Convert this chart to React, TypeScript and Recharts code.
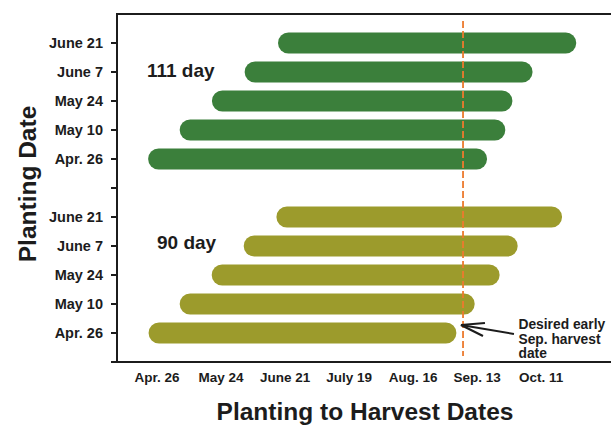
import React from "react";
import { BarChart, Bar, XAxis, YAxis, Cell, ReferenceLine, ReferenceDot } from "recharts";

// Planting-date categories (top to bottom); "" is the gap row
const categoryIds = ["a0", "a1", "a2", "a3", "a4", "gap", "b0", "b1", "b2", "b3", "b4"];
const plantingLabels = ["June 21", "June 7", "May 24", "May 10", "Apr. 26", "", "June 21", "June 7", "May 24", "May 10", "Apr. 26"];

// Days after Apr. 26 (visible bar extents)
const bar111Start = [52.9, 38.3, 24.0, 9.9, -3.9];
const bar111End = [183.3, 164.2, 155.4, 152.3, 144.3];
const bar90Start = [52.2, 37.9, 23.9, 9.9, -3.7];
const bar90End = [177.1, 157.7, 149.8, 138.9, 130.9];

const xTickDays = [0, 28, 56, 84, 112, 140, 168];
const xTickLabels = ["Apr. 26", "May 24", "June 21", "July 19", "Aug. 16", "Sep. 13", "Oct. 11"];
const xDomain = [-17.5, 198.5];
const harvestTargetDay = 133.8;
const arrowTipDay = 132.9;

const COLOR_111 = "#3b7f3b";
const COLOR_90 = "#9c9b2c";
const FONT = "'Liberation Sans', Arial, Helvetica, sans-serif";
const INK = "#1c1c1c";

const rows = categoryIds.map((id, i) => {
  let range: number[] | undefined = undefined;
  let group = "";
  if (i < 5) {
    range = [bar111Start[i], bar111End[i]];
    group = "111";
  } else if (i > 5) {
    range = [bar90Start[i - 6], bar90End[i - 6]];
    group = "90";
  }
  return { id, label: plantingLabels[i], range, group };
});

const labelFor = (id: string) => {
  const i = categoryIds.indexOf(id);
  return i >= 0 ? plantingLabels[i] : "";
};
const xLabelFor = (v: number) => {
  const i = xTickDays.indexOf(v);
  return i >= 0 ? xTickLabels[i] : "";
};

const ShortDashed = (props: any) => {
  const { x1, y1, x2, y2 } = props;
  const top = Math.min(y1, y2);
  const bottom = Math.max(y1, y2);
  return (
    <line x1={x1} x2={x2} y1={top + 7} y2={bottom - 6} stroke="#ec7a2e" strokeWidth={1.8} strokeDasharray="7 3" />
  );
};

// frame: top border across the plot and slight leftward extension of the base line
const Frame = (props: any) => {
  const { x1, y1, y2 } = props;
  const top = Math.min(y1, y2);
  const bottom = Math.max(y1, y2);
  return (
    <g>
      <line x1={x1 - 1} x2={611} y1={top} y2={top} stroke={INK} strokeWidth={2} />
      <line x1={x1 - 6} x2={x1} y1={bottom} y2={bottom} stroke={INK} strokeWidth={2} />
    </g>
  );
};

export default function App() {
  return (
    <div style={{ position: "absolute", left: 0, top: 0, width: 611, height: 426, background: "#fff" }}>
      <BarChart
        width={611}
        height={426}
        data={rows}
        layout="vertical"
        margin={{ top: 14, right: 0, bottom: 34, left: 0 }}
        barSize={21}
      >
        <XAxis
          type="number"
          dataKey="range"
          domain={xDomain}
          ticks={xTickDays}
          tickFormatter={xLabelFor}
          tickLine={false}
          tickSize={6}
          tickMargin={4}
          height={30}
          axisLine={{ stroke: INK, strokeWidth: 2 }}
          tick={{ fill: INK, fontSize: 13.5, fontWeight: 700, fontFamily: FONT }}
          allowDataOverflow
          label={{
            content: () => (
              <text x={365} y={420} textAnchor="middle" fill={INK} fontSize={24.5} fontWeight={700} fontFamily={FONT}>
                Planting to Harvest Dates
              </text>
            ),
          }}
        />
        <YAxis
          type="category"
          dataKey="id"
          width={117}
          padding={{ top: 14.5, bottom: 14.5 }}
          tickFormatter={labelFor}
          tickSize={6}
          tickMargin={8}
          interval={0}
          axisLine={{ stroke: INK, strokeWidth: 2 }}
          tickLine={{ stroke: INK, strokeWidth: 2 }}
          tick={{ fill: INK, fontSize: 14.5, fontWeight: 700, fontFamily: FONT }}
          label={{
            content: (p: any) => {
              const vb = p.viewBox || { x: 0, y: 14, width: 117, height: 348 };
              const cx = 27;
              const cy = vb.y + vb.height / 2 - 4;
              return (
                <text
                  x={cx}
                  y={cy}
                  transform={`rotate(-90, ${cx}, ${cy})`}
                  textAnchor="middle"
                  dominantBaseline="central"
                  fill={INK}
                  fontSize={24.5}
                  fontWeight={700}
                  fontFamily={FONT}
                >
                  Planting Date
                </text>
              );
            },
          }}
        />
        <Bar dataKey="range" radius={10.5} isAnimationActive={false}>
          {rows.map((r) => (
            <Cell key={r.id} fill={r.group === "111" ? COLOR_111 : COLOR_90} />
          ))}
        </Bar>
        <ReferenceLine x={xDomain[0]} shape={Frame} ifOverflow="visible" />
        <ReferenceLine x={harvestTargetDay} shape={ShortDashed} />
        <ReferenceDot
          x={-4.4}
          y="a1"
          r={0}
          shape={(p: any) => (
            <text x={p.cx} y={p.cy + 5} textAnchor="start" fill={INK} fontSize={19} fontWeight={700} fontFamily={FONT}>
              111 day
            </text>
          )}
        />
        <ReferenceDot
          x={0}
          y="b1"
          r={0}
          shape={(p: any) => (
            <text x={p.cx} y={p.cy + 3} textAnchor="start" fill={INK} fontSize={19} fontWeight={700} fontFamily={FONT}>
              90 day
            </text>
          )}
        />
        <ReferenceDot
          x={arrowTipDay}
          y="b4"
          r={0}
          shape={(p: any) => {
            const tx = p.cx;
            const ty = p.cy - 8;
            return (
              <g>
                <line x1={tx} y1={ty} x2={tx + 53} y2={ty + 9} stroke={INK} strokeWidth={2} />
                <line x1={tx} y1={ty} x2={tx + 24} y2={ty - 2} stroke={INK} strokeWidth={2} />
                <line x1={tx} y1={ty} x2={tx + 22} y2={ty + 11} stroke={INK} strokeWidth={2} />
                <text x={tx + 57.5} fill={INK} fontSize={13.8} fontWeight={700} fontFamily={FONT}>
                  <tspan x={tx + 57.5} y={ty + 3.5}>Desired early</tspan>
                  <tspan x={tx + 57.5} y={ty + 18.5}>Sep. harvest</tspan>
                  <tspan x={tx + 57.5} y={ty + 33.3}>date</tspan>
                </text>
              </g>
            );
          }}
        />
      </BarChart>
    </div>
  );
}
